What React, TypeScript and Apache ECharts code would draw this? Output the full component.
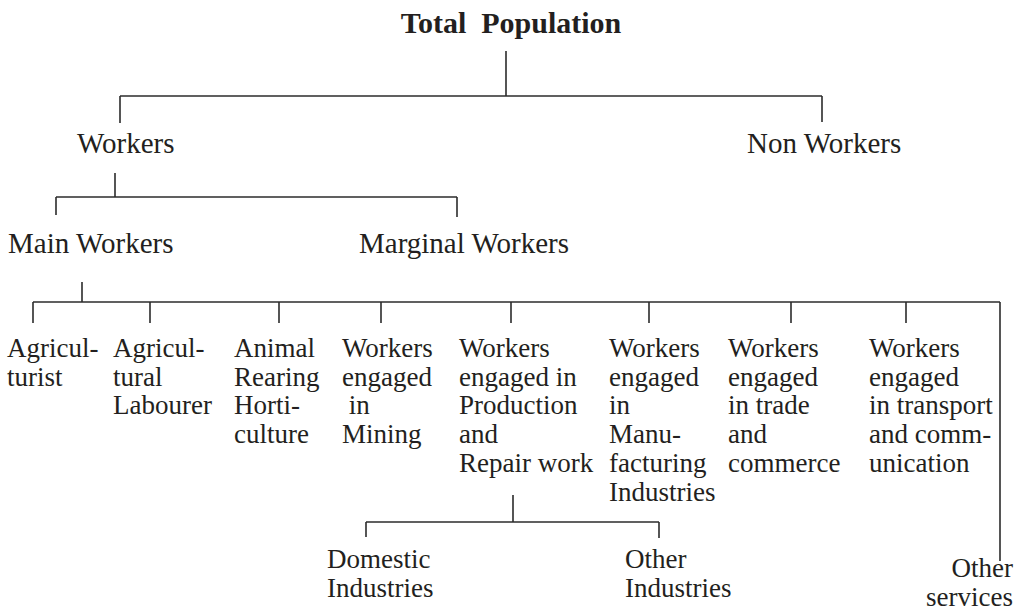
import React, { useEffect, useRef } from "react";
import * as echarts from "echarts";

// ---- Diagram content (tree of population classes) ----
const titleLabel = "Total  Population";
const titleX = [511];
const titleY = [33];

const mainLabels = ["Workers", "Non Workers", "Main Workers", "Marginal Workers"];
const mainX = [77, 747, 8, 359];
const mainY = [153, 153, 253, 253];

const leafLabels = [
  "Agricul-\nturist",
  "Agricul-\ntural\nLabourer",
  "Animal\nRearing\nHorti-\nculture",
  "Workers\nengaged\n in\nMining",
  "Workers\nengaged in\nProduction\nand\nRepair work",
  "Workers\nengaged\nin\nManu-\nfacturing\nIndustries",
  "Workers\nengaged\nin trade\nand\ncommerce",
  "Workers\nengaged\nin transport\nand comm-\nunication",
  "Domestic\nIndustries",
  "Other\nIndustries",
  "Other\nservices",
];
const leafX = [7, 113, 234, 342, 459, 609, 728, 869, 327, 625, 1013];
const leafY = [357, 357, 357, 357, 357, 357, 357, 357, 568, 568, 577];
const leafAlign = ["left", "left", "left", "left", "left", "left", "left", "left", "left", "left", "right"];

// ---- Connectors: one bracket per parent ----
const bracketStemX = [506, 115, 82, 513];
const bracketStemTop = [51, 173, 282, 495];
const bracketBarY = [96, 197, 302, 522];
const bracketTickX = [
  [120, 822],
  [56, 457],
  [33, 150, 279, 381, 511, 649, 791, 906, 1000],
  [366, 659],
];
const bracketTickBottom = [
  [123, 122],
  [215, 217],
  [323, 323, 323, 323, 323, 323, 323, 323, 561],
  [537, 538],
];

const W = 1016;
const H = 613;
const INK = "#231f20";
const FONT = '"Liberation Serif", "Times New Roman", serif';

function buildSegments(): number[][] {
  const segs: number[][] = [];
  for (let b = 0; b < bracketStemX.length; b++) {
    const ticks = bracketTickX[b];
    const y = bracketBarY[b];
    segs.push([bracketStemX[b], bracketStemTop[b], bracketStemX[b], y]);
    segs.push([Math.min(...ticks), y, Math.max(...ticks), y]);
    ticks.forEach((tx, k) => segs.push([tx, y, tx, bracketTickBottom[b][k]]));
  }
  return segs;
}

function textSeries(
  labels: string[],
  xs: number[],
  ys: number[],
  aligns: string[],
  size: number,
  weight: string,
  lineH: number
) {
  return {
    type: "custom",
    coordinateSystem: "cartesian2d",
    silent: true,
    clip: false,
    data: xs.map((x, i) => [x, ys[i]]),
    renderItem: (params: any, api: any) => {
      const i = params.dataIndex;
      const p = api.coord([api.value(0), api.value(1)]);
      return {
        type: "text",
        x: p[0],
        y: p[1] - 0.34 * size - lineH / 2,
        style: {
          text: labels[i],
          font: `${weight} ${size}px ${FONT}`,
          fill: INK,
          align: aligns[i],
          verticalAlign: "top",
          lineHeight: lineH,
        },
      };
    },
  };
}

export default function App() {
  const ref = useRef<HTMLDivElement>(null);
  useEffect(() => {
    if (!ref.current) return;
    const chart = echarts.init(ref.current, undefined, { renderer: "svg" });
    const segments = buildSegments();
    chart.setOption({
      animation: false,
      backgroundColor: "#ffffff",
      grid: { left: 0, right: 0, top: 0, bottom: 0 },
      xAxis: { type: "value", min: 0, max: W, show: false },
      yAxis: { type: "value", min: 0, max: H, inverse: true, show: false },
      series: [
        {
          type: "custom",
          coordinateSystem: "cartesian2d",
          silent: true,
          clip: false,
          data: segments,
          renderItem: (_params: any, api: any) => {
            const a = api.coord([api.value(0), api.value(1)]);
            const b = api.coord([api.value(2), api.value(3)]);
            return {
              type: "line",
              shape: { x1: a[0], y1: a[1], x2: b[0], y2: b[1] },
              style: { stroke: "#2b2b2b", lineWidth: 1.6 },
            };
          },
        },
        textSeries([titleLabel], titleX, titleY, ["center"], 30, "bold", 36),
        textSeries(mainLabels, mainX, mainY, ["left", "left", "left", "left"], 29, "normal", 34),
        textSeries(leafLabels, leafX, leafY, leafAlign, 27, "normal", 28.8),
      ],
    });
    return () => chart.dispose();
  }, []);
  return (
    <div
      ref={ref}
      style={{ position: "absolute", left: 0, top: 0, width: W, height: H }}
    />
  );
}
